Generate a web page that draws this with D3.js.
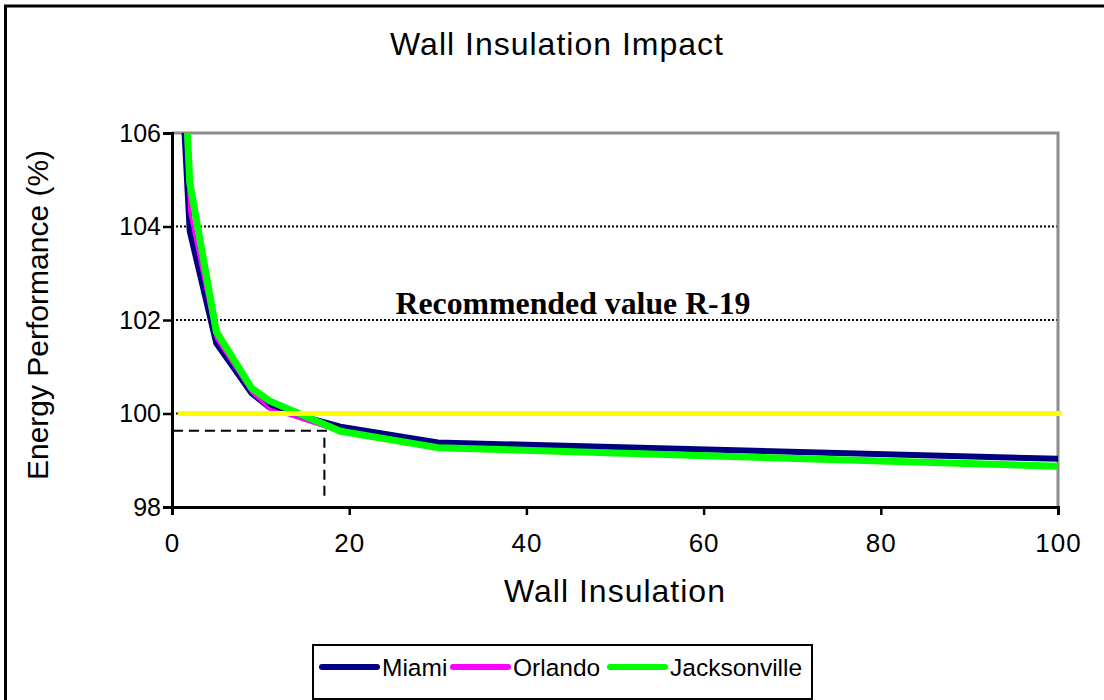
<!DOCTYPE html>
<html>
<head>
    <meta charset="utf-8">
    <script type="text/javascript" src="https://cdn.jsdelivr.net/npm/d3@7"></script>
    <style>
    body { margin:0; background:#fff; }
    text { font-family:"Liberation Sans", Arial, sans-serif; fill:#000; }
    </style>
</head>
<body>
    <script>
        // values, one array per thing
        var insulation   = [1, 2, 5, 9, 11, 19, 30, 100];
        var miami        = [107.5, 103.9, 101.5, 100.43, 100.13, 99.72, 99.38, 99.03];
        var orlando      = [108.0, 104.3, 101.6, 100.45, 100.10, 99.60, 99.28, 98.90];
        var jacksonville = [109.1, 104.95, 101.75, 100.54, 100.27, 99.62, 99.27, 98.87];
        var cityNames    = ['Miami', 'Orlando', 'Jacksonville'];
        var cityColors   = ['#000080', '#ff00ff', '#00ff00'];
        var cityWidths   = [6, 3, 7];
        var xTicks = [0, 20, 40, 60, 80, 100];
        var yTicks = [98, 100, 102, 104, 106];
        var gridValues = [100, 102, 104];
        // the yellow target line and the dashed read-off lines
        var targetLine = [{x:0.65, y:100}, {x:100.45, y:100}];
        var readAcross = [{x:0.1, y:99.63}, {x:17.8, y:99.63}];
        var readDown   = [{x:17.2, y:99.48}, {x:17.2, y:98.2}];

        var width = 1104,
            height = 700;

        var svg = d3.select('body')
            .append('svg')
            .attr('width', width)
            .attr('height', height);

        // outer frame, only the top and left edges are on the picture
        svg.append('rect')
            .attr('x', 5.5).attr('y', 6)
            .attr('width', 1200).attr('height', 800)
            .attr('fill', 'none')
            .attr('stroke', '#000')
            .attr('stroke-width', 3);

        var x = d3.scaleLinear().domain([0, 100]).range([172, 1058]);
        var y = d3.scaleLinear().domain([98, 106]).range([507, 133]);

        // dotted grid lines
        svg.selectAll('line.grid')
            .data(gridValues)
            .enter().append('line')
                .attr('class', 'grid')
                .attr('x1', x(0)).attr('x2', x(100))
                .attr('y1', function(d){ return y(d); })
                .attr('y2', function(d){ return y(d); })
                .attr('stroke', '#000')
                .attr('stroke-width', 2)
                .attr('stroke-dasharray', '2,2');

        // grey top and right edges of the plot
        svg.append('path')
            .attr('d', 'M' + x(0) + ',' + y(106) + 'H' + x(100) + 'V' + y(98))
            .attr('fill', 'none')
            .attr('stroke', '#8c8c8c')
            .attr('stroke-width', 3);

        svg.append('clipPath').attr('id', 'plot')
            .append('rect')
            .attr('x', x(0)).attr('y', y(106))
            .attr('width', x(100) - x(0)).attr('height', y(98) - y(106));

        var line = d3.line()
            .x(function(d){ return x(d.x); })
            .y(function(d){ return y(d.y); });

        // dashed lines showing R-19
        svg.selectAll('path.read')
            .data([readAcross, readDown])
            .enter().append('path')
                .attr('class', 'read')
                .attr('d', line)
                .attr('fill', 'none')
                .attr('stroke', '#000')
                .attr('stroke-width', 2)
                .attr('stroke-dasharray', '10,6');

        var series = [miami, orlando, jacksonville].map(function(vals){
            return vals.map(function(v, i){ return {x:insulation[i], y:v}; });
        });

        svg.append('g')
            .attr('clip-path', 'url(#plot)')
            .selectAll('path.city')
            .data(series)
            .enter().append('path')
                .attr('class', 'city')
                .attr('d', line)
                .attr('fill', 'none')
                .attr('stroke', function(d, i){ return cityColors[i]; })
                .attr('stroke-width', function(d, i){ return cityWidths[i]; })
                .attr('stroke-linejoin', 'round')
                .attr('stroke-linecap', 'round');

        svg.append('path')
            .datum(targetLine)
            .attr('d', line)
            .attr('fill', 'none')
            .attr('stroke', '#ffff00')
            .attr('stroke-width', 5);

        // axes
        var xAxis = svg.append('g')
            .attr('transform', 'translate(0,' + y(98) + ')')
            .call(d3.axisBottom(x).tickValues(xTicks).tickSize(8).tickPadding(19));
        var yAxis = svg.append('g')
            .attr('transform', 'translate(' + x(0) + ',0)')
            .call(d3.axisLeft(y).tickValues(yTicks).tickSize(9).tickPadding(2));

        [xAxis, yAxis].forEach(function(a){
            a.select('.domain').attr('stroke', '#000').attr('stroke-width', 3);
            a.selectAll('.tick line').attr('stroke', '#000').attr('stroke-width', 2.5);
            a.selectAll('.tick text')
                .style('font-family', '"Liberation Sans", Arial, sans-serif')
                .attr('fill', '#000');
        });
        xAxis.selectAll('.tick text').style('font-size', '26px').style('letter-spacing', '1px');
        yAxis.selectAll('.tick text').style('font-size', '25px');

        // texts
        svg.append('text')
            .attr('x', 557).attr('y', 55)
            .attr('text-anchor', 'middle')
            .style('font-size', '32px')
            .style('letter-spacing', '1px')
            .text('Wall Insulation Impact');

        svg.append('text')
            .attr('x', 615).attr('y', 602)
            .attr('text-anchor', 'middle')
            .style('font-size', '32px')
            .style('letter-spacing', '1px')
            .text('Wall Insulation');

        svg.append('text')
            .attr('transform', 'translate(48,315) rotate(-90)')
            .attr('text-anchor', 'middle')
            .style('font-size', '30px')
            .text('Energy Performance (%)');

        svg.append('text')
            .attr('x', 573).attr('y', 314)
            .attr('text-anchor', 'middle')
            .style('font-family', '"Liberation Serif", "Times New Roman", serif')
            .style('font-weight', 'bold')
            .style('font-size', '31.8px')
            .text('Recommended value R-19');

        // legend
        var legend = svg.append('g');
        legend.append('rect')
            .attr('x', 313).attr('y', 645)
            .attr('width', 499).attr('height', 54)
            .attr('fill', '#fff')
            .attr('stroke', '#000')
            .attr('stroke-width', 2);

        var legendStarts = [320, 451, 608];
        var item = legend.selectAll('g.item')
            .data(cityNames)
            .enter().append('g')
                .attr('class', 'item')
                .attr('transform', function(d, i){ return 'translate(' + legendStarts[i] + ',667)'; });
        item.append('line')
            .attr('x1', 2).attr('x2', 57)
            .attr('stroke', function(d, i){ return cityColors[i]; })
            .attr('stroke-width', 6)
            .attr('stroke-linecap', 'round');
        item.append('text')
            .attr('x', 62).attr('y', 8.5)
            .style('font-size', '24.5px')
            .text(function(d){ return d; });
    </script>
</body>
</html>
